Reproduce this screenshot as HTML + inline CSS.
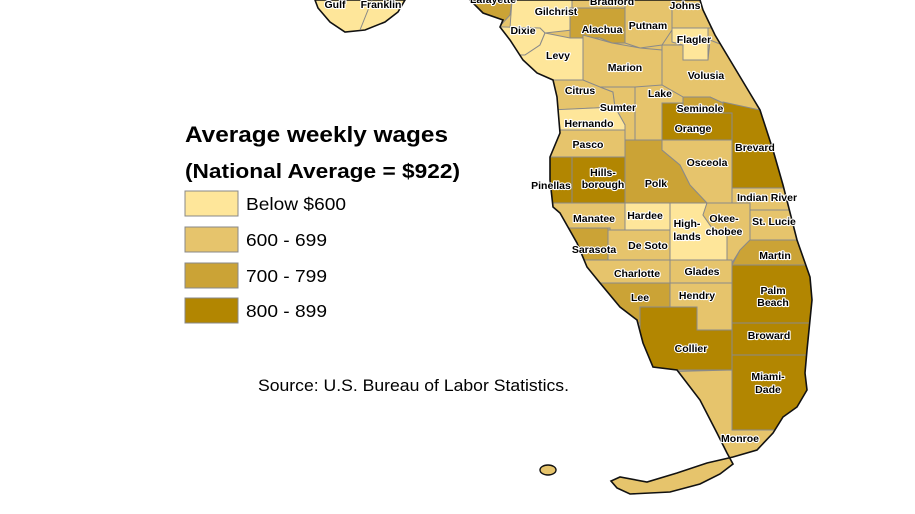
<!DOCTYPE html>
<html><head><meta charset="utf-8">
<style>
html,body{margin:0;padding:0;background:#fff;}
svg{display:block;}
.lbl{font-family:"Liberation Sans",sans-serif;font-weight:bold;font-size:10.5px;fill:#000;stroke:#fff;stroke-width:2.2px;paint-order:stroke;stroke-linejoin:round;text-anchor:middle;}
.leg{font-family:"Liberation Sans",sans-serif;fill:#000;}
</style></head>
<body>
<svg id="map" width="915" height="514" viewBox="0 0 915 514" xmlns="http://www.w3.org/2000/svg">
<defs>
<clipPath id="fl"><polygon id="outlinePts" points=""/></clipPath>
</defs>
<g id="counties" clip-path="url(#fl)"></g>
<polygon id="outline" fill="none" stroke="#111" stroke-width="1.6"/>
<polygon points="315,0 318,8 330,22 345,32 365,30 385,22 398,12 405,0" fill="#FEE69A" stroke="#111" stroke-width="1.6"/>
<line x1="360" y1="30" x2="372" y2="0" stroke="#888" stroke-width="1"/>
<ellipse cx="548" cy="470" rx="8" ry="5" fill="#E6C46C" stroke="#111" stroke-width="1.4"/>
<g id="labels"></g>
<text class="lbl" x="335" y="8">Gulf</text>
<text class="lbl" x="381" y="8">Franklin</text>

<g>
<text class="leg" x="185" y="142" font-size="22" font-weight="bold" textLength="263" lengthAdjust="spacingAndGlyphs">Average weekly wages</text>
<text class="leg" x="185" y="178" font-size="20" font-weight="bold" textLength="275" lengthAdjust="spacingAndGlyphs">(National Average = $922)</text>
<g id="legendItems"></g>
</g>
<text class="leg" x="258" y="391" font-size="16.5" textLength="311" lengthAdjust="spacingAndGlyphs">Source: U.S. Bureau of Labor Statistics.</text>
</svg>
<script>
const classColors = ["#FEE69A","#E6C46C","#CBA336","#B28601"];
const classLabels = ["Below $600","600 - 699","700 - 799","800 - 899"];
const labelLens = [100,81,81,81];
const countyNames = ["Lafayette","Gilchrist","Dixie","Bradford","Alachua","Putnam","Johns","Flagler","Levy","Marion","Volusia","Citrus","Sumter","Lake","Hernando","Pasco","Pinellas","Hillsborough","Seminole","Orange","Polk","Osceola","Brevard","Indian River","Manatee","Sarasota","Hardee","De Soto","Highlands","Okeechobee","St. Lucie","Martin","Charlotte","Glades","Lee","Hendry","Palm Beach","Broward","Collier","Miami-Dade","Monroe"];
const countyClass = [2,0,0,1,2,1,1,0,0,1,1,1,1,1,0,1,3,3,2,3,2,1,3,1,1,2,0,1,0,1,1,2,1,1,2,1,3,3,3,3,1];

const outline = [[470,0],[700,0],[703,10],[715,35],[730,60],[745,85],[760,110],[773,150],[783,185],[797,240],[810,277],[812,300],[807,350],[805,373],[807,390],[797,407],[783,417],[773,433],[757,450],[733,457],[707,463],[677,473],[647,482],[620,477],[611,481],[617,488],[630,494],[670,492],[700,484],[720,474],[733,464],[727,453],[717,433],[700,400],[677,370],[653,367],[643,343],[637,320],[620,307],[600,283],[587,267],[577,243],[560,213],[553,207],[550,180],[550,157],[560,133],[557,97],[553,80],[537,73],[523,60],[510,40],[500,27],[503,20],[483,13]];
const shapes = {
"Lafayette":[[460,0],[512,0],[510,15],[500,26],[470,26]],
"Gilchrist":[[512,0],[572,0],[572,30],[545,33],[540,28],[510,28]],
"Dixie":[[470,26],[540,28],[545,33],[540,45],[525,55],[500,55]],
"Bradford":[[572,0],[628,0],[628,8],[572,8]],
"Alachua":[[570,8],[625,8],[625,43],[612,43],[600,38],[570,38]],
"Putnam":[[625,0],[672,0],[672,30],[662,45],[640,48],[625,43]],
"Johns":[[672,0],[720,0],[720,28],[672,28]],
"Flagler":[[672,28],[708,28],[708,60],[683,60],[683,45],[672,42]],
"Levy":[[500,55],[525,55],[540,45],[545,33],[570,38],[583,38],[583,80],[553,82],[530,78]],
"Marion":[[583,35],[612,43],[640,48],[662,50],[662,87],[583,87]],
"Volusia":[[662,45],[683,45],[683,60],[708,60],[710,40],[760,60],[760,110],[723,103],[710,97],[683,97],[662,85]],
"Citrus":[[540,80],[583,80],[600,87],[613,92],[615,107],[555,110]],
"Sumter":[[600,87],[635,87],[635,140],[625,140],[625,125],[615,107],[613,92]],
"Lake":[[635,87],[662,85],[683,97],[683,103],[662,103],[662,140],[635,140]],
"Hernando":[[550,110],[615,107],[625,125],[625,130],[550,130]],
"Pasco":[[540,130],[625,130],[625,157],[540,157]],
"Pinellas":[[530,157],[572,157],[572,210],[530,210]],
"Hillsborough":[[572,157],[625,157],[625,145],[625,203],[572,203],[572,210]],
"Seminole":[[683,97],[710,97],[723,103],[723,113],[683,113],[683,103]],
"Orange":[[662,103],[683,103],[683,113],[723,113],[732,113],[732,140],[662,140]],
"Polk":[[625,140],[662,140],[662,150],[680,165],[690,185],[707,203],[625,203]],
"Osceola":[[662,140],[732,140],[732,203],[707,203],[690,185],[680,165],[662,150]],
"Brevard":[[723,102],[760,110],[800,200],[790,188],[732,188],[732,113],[723,113]],
"Indian River":[[732,188],[790,188],[810,210],[732,210],[732,203]],
"Manatee":[[540,203],[625,203],[625,230],[610,230],[610,228],[570,228],[540,228]],
"Sarasota":[[540,228],[608,228],[608,260],[587,260],[580,268],[560,268]],
"Hardee":[[625,203],[670,203],[670,230],[625,230]],
"De Soto":[[608,230],[670,230],[670,260],[608,260]],
"Highlands":[[670,203],[707,203],[703,215],[712,228],[727,235],[727,260],[670,260]],
"Okeechobee":[[707,203],[750,203],[750,240],[740,250],[732,263],[727,263],[727,235],[712,228],[703,215]],
"St. Lucie":[[750,210],[810,210],[815,240],[750,240]],
"Martin":[[750,240],[815,240],[815,265],[732,265],[740,250]],
"Charlotte":[[560,260],[670,260],[670,283],[580,283]],
"Glades":[[670,260],[732,260],[732,283],[670,283]],
"Lee":[[580,283],[670,283],[670,307],[660,307],[660,323],[620,323],[600,310]],
"Hendry":[[670,283],[732,283],[732,330],[697,330],[697,307],[670,307]],
"Palm Beach":[[732,265],[820,265],[820,323],[732,323]],
"Broward":[[732,323],[820,323],[820,355],[732,355]],
"Collier":[[640,307],[697,307],[697,330],[732,330],[732,370],[680,370],[655,372],[640,350]],
"Miami-Dade":[[732,355],[820,355],[820,430],[732,430]],
"Monroe":[[655,372],[732,370],[732,430],[820,430],[820,500],[600,500],[600,372]]
};
const labelPos = {"Gilchrist":[556,15],"Dixie":[523,34],"Alachua":[602,33],"Putnam":[648,29],"Johns":[685,9],"Flagler":[694,43],"Levy":[558,59],"Marion":[625,71],"Volusia":[706,79],"Citrus":[580,94],"Sumter":[618,111],"Lake":[660,97],"Seminole":[700,112],"Hernando":[589,127],"Pasco":[588,148],"Pinellas":[551,189],"Orange":[693,132],"Brevard":[755,151],"Osceola":[707,166],"Polk":[656,187],"Indian River":[767,201],"Manatee":[594,222],"Hardee":[645,219],"St. Lucie":[774,225],"Sarasota":[594,253],"De Soto":[648,249],"Martin":[775,259],"Charlotte":[637,277],"Glades":[702,275],"Lee":[640,301],"Hendry":[697,299],"Broward":[769,339],"Collier":[691,352],"Monroe":[740,442]};
const multiLabels = [["Hills-","borough",603,176,188],["High-","lands",687,227,240],["Okee-","chobee",724,222,235],["Palm","Beach",773,294,306],["Miami-","Dade",768,380,393],["Lafayette","",493,3,0],["Bradford","",612,5,0]];

const NS="http://www.w3.org/2000/svg";
const ptsStr = a => a.map(p=>p.join(",")).join(" ");
document.getElementById("outlinePts").setAttribute("points", ptsStr(outline));
const ol = document.getElementById("outline");
ol.setAttribute("points", ptsStr(outline));
const cg = document.getElementById("counties");
const base = document.createElementNS(NS,"polygon");
base.setAttribute("points", ptsStr(outline));
base.setAttribute("fill", classColors[1]);


cg.appendChild(base);
countyNames.forEach((n,i)=>{
  const p = document.createElementNS(NS,"polygon");
  p.setAttribute("points", ptsStr(shapes[n]));
  p.setAttribute("fill", classColors[countyClass[i]]);
  p.setAttribute("stroke", "#8a8a8a");
  p.setAttribute("stroke-width", "1");
  
  
  cg.appendChild(p);
});
const lg = document.getElementById("labels");
Object.keys(labelPos).forEach(n=>{
  const t = document.createElementNS(NS,"text");
  t.setAttribute("class","lbl");
  t.setAttribute("x", labelPos[n][0]);
  t.setAttribute("y", labelPos[n][1]);
  t.textContent = n;
  
  
  lg.appendChild(t);
});
multiLabels.forEach(m=>{
  [[m[0],m[3]],[m[1],m[4]]].forEach(([s,y])=>{
    if(!s) return;
    const t = document.createElementNS(NS,"text");
    t.setAttribute("class","lbl");
    t.setAttribute("x", m[2]);
    t.setAttribute("y", y);
    t.textContent = s;
    
    
    lg.appendChild(t);
  });
});
const li = document.getElementById("legendItems");
const boxY = [191,227,263,298];
classLabels.forEach((l,i)=>{
  const r = document.createElementNS(NS,"rect");
  r.setAttribute("x",185); r.setAttribute("y",boxY[i]);
  r.setAttribute("width",53); r.setAttribute("height",25);
  r.setAttribute("fill",classColors[i]); r.setAttribute("stroke","#888"); r.setAttribute("stroke-width","1");
  
  
  li.appendChild(r);
  const t = document.createElementNS(NS,"text");
  t.setAttribute("class","leg"); t.setAttribute("x",246); t.setAttribute("y",boxY[i]+19);
  t.setAttribute("font-size","17.5");
  t.setAttribute("textLength", labelLens[i]);
  t.setAttribute("lengthAdjust","spacingAndGlyphs");
  t.textContent = l;
  
  
  li.appendChild(t);
});
</script>
</body></html>
